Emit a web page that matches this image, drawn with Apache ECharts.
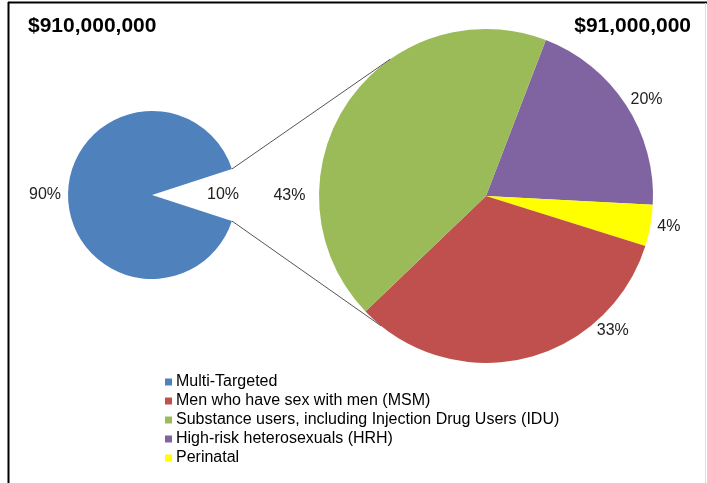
<!DOCTYPE html>
<html>
<head>
<meta charset="utf-8">
<title>Pie of pie</title>
<script src="https://cdn.jsdelivr.net/npm/echarts@6/dist/echarts.min.js"></script>
<style>
  html, body { margin: 0; padding: 0; background: #fff; }
  #chart { width: 707px; height: 483px; }
</style>
</head>
<body>
<div id="chart"></div>
<script>
// totals printed above each pie
const totalLabels = ['$910,000,000', '$91,000,000']

// left pie: share of all funding (percent)
const overallNames = ['Multi-Targeted', 'Targeted']
const overallValues = [90, 10]

// right pie: breakdown of the targeted 10% (percent), clockwise from top-right
const detailNames = [
  'High-risk heterosexuals (HRH)',
  'Perinatal',
  'Men who have sex with men (MSM)',
  'Substance users, including Injection Drug Users (IDU)'
]
const detailValues = [20, 4, 33, 43]

// legend order as in the original
const legendNames = [
  'Multi-Targeted',
  'Men who have sex with men (MSM)',
  'Substance users, including Injection Drug Users (IDU)',
  'High-risk heterosexuals (HRH)',
  'Perinatal'
]

const colors = {
  'Multi-Targeted': '#4F81BD',
  'Men who have sex with men (MSM)': '#C0504D',
  'Substance users, including Injection Drug Users (IDU)': '#9BBB59',
  'High-risk heterosexuals (HRH)': '#8064A2',
  'Perinatal': '#FFFF00'
}

const fontFamily = '"Liberation Sans", Arial, sans-serif'

// layout of the two pies (px)
const leftCenter = [152, 195]
const leftR = 84
const rightCenter = [486, 196]
const rightR = 167

// the gap in the left pie is centred on 3 o'clock
const gapDeg = overallValues[1] / 100 * 360
const leftStart = 90 - (90 + gapDeg / 2)

// where the connector lines meet the big pie (degrees clockwise from 12 o'clock)
const joinTopDeg = 325
const joinBottomDeg = 219

// Excel moved some labels off their default place
const labelNudge = {
  'Targeted': [26, 0],
  'High-risk heterosexuals (HRH)': [-2, -4],
  'Men who have sex with men (MSM)': [68, -31],
  'Substance users, including Injection Drug Users (IDU)': [-35, 94]
}

function polar(c, r, cwDeg) {
  const a = cwDeg * Math.PI / 180
  return [c[0] + r * Math.sin(a), c[1] - r * Math.cos(a)]
}

function nudge(names) {
  return function (p) {
    const d = labelNudge[names[p.dataIndex]]
    return d ? { dx: d[0], dy: d[1] } : {}
  }
}

const tipTop = polar(leftCenter, leftR, 90 - gapDeg / 2)
const tipBottom = polar(leftCenter, leftR, 90 + gapDeg / 2)
const joinTop = polar(rightCenter, rightR, joinTopDeg)
const joinBottom = polar(rightCenter, rightR, joinBottomDeg)

const labelStyle = {
  show: true,
  position: 'outside',
  formatter: '{c}%',
  color: '#222',
  fontSize: 16,
  fontFamily: fontFamily,
  distanceToLabelLine: 4
}

const chart = echarts.init(document.getElementById('chart'), null, { renderer: 'canvas' })

const option = {
  animation: false,
  backgroundColor: '#fff',
  title: [
    {
      text: totalLabels[0],
      left: 28,
      top: 16,
      padding: 0,
      textStyle: { fontSize: 21, fontWeight: 'bold', color: '#000', fontFamily: fontFamily }
    },
    {
      text: totalLabels[1],
      right: 16,
      top: 16,
      padding: 0,
      textStyle: { fontSize: 21, fontWeight: 'bold', color: '#000', fontFamily: fontFamily }
    }
  ],
  legend: {
    orient: 'vertical',
    left: 165,
    top: 374,
    padding: 0,
    itemWidth: 7,
    itemHeight: 7,
    itemGap: 3,
    icon: 'rect',
    selectedMode: false,
    data: legendNames,
    textStyle: { fontSize: 16, color: '#000', fontFamily: fontFamily, padding: [0, 0, 0, -1] }
  },
  series: [
    {
      name: 'overall',
      type: 'pie',
      center: leftCenter,
      radius: leftR,
      startAngle: leftStart,
      clockwise: true,
      avoidLabelOverlap: false,
      silent: true,
      label: labelStyle,
      labelLine: { show: false, length: 3, length2: 0 },
      labelLayout: nudge(overallNames),
      data: overallNames.map((n, i) => ({
        name: n,
        value: overallValues[i],
        itemStyle: { color: i === 0 ? colors[n] : 'rgba(0,0,0,0)' },
        label: i === 0 ? {} : { position: 'inside' }
      }))
    },
    {
      name: 'detail',
      type: 'pie',
      center: rightCenter,
      radius: rightR,
      startAngle: 69,
      clockwise: true,
      avoidLabelOverlap: false,
      silent: true,
      label: labelStyle,
      labelLine: { show: false, length: 3, length2: 0 },
      labelLayout: nudge(detailNames),
      data: detailNames.map((n, i) => ({
        name: n,
        value: detailValues[i],
        itemStyle: { color: colors[n] }
      }))
    }
  ],
  graphic: [
    {
      type: 'line',
      shape: { x1: tipTop[0], y1: tipTop[1], x2: joinTop[0], y2: joinTop[1] },
      style: { stroke: '#555', lineWidth: 1 },
      z: 10
    },
    {
      type: 'line',
      shape: { x1: tipBottom[0], y1: tipBottom[1], x2: joinBottom[0], y2: joinBottom[1] },
      style: { stroke: '#555', lineWidth: 1 },
      z: 10
    },
    // chart frame: heavy top and left edges, faint right edge
    { type: 'line', shape: { x1: 8, y1: 2.5, x2: 707, y2: 2.5 }, style: { stroke: '#000', lineWidth: 2 } },
    { type: 'line', shape: { x1: 8.5, y1: 2, x2: 8.5, y2: 483 }, style: { stroke: '#000', lineWidth: 2 } },
    { type: 'line', shape: { x1: 705.5, y1: 3, x2: 705.5, y2: 483 }, style: { stroke: '#ddd', lineWidth: 1 } }
  ]
}

chart.setOption(option)
</script>
</body>
</html>
